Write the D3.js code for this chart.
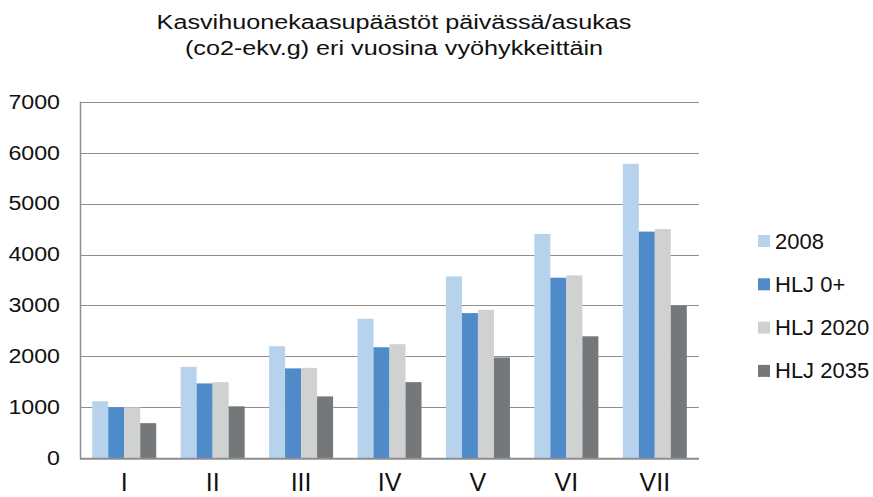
<!DOCTYPE html>
<html><head><meta charset="utf-8">
<script src="https://cdn.jsdelivr.net/npm/d3@7"></script>
<style>body{margin:0;background:#fff;}text{font-family:"Liberation Sans",Arial,sans-serif;fill:#111;}</style>
</head><body><svg id="c" width="873" height="497"></svg>
<script>
const categories = ["I","II","III","IV","V","VI","VII"];
const seriesNames = ["2008","HLJ 0+","HLJ 2020","HLJ 2035"];
const s2008   = [1120, 1795, 2200, 2740, 3570, 4405, 5780];
const sHLJ0   = [1000, 1470, 1765, 2180, 2850, 3545, 4450];
const sHLJ2020= [1000, 1495, 1775, 2240, 2915, 3590, 4500];
const sHLJ2035= [690, 1020, 1215, 1495, 1980, 2395, 2995];
const yTicks = [0,1000,2000,3000,4000,5000,6000,7000];
const colors = ["#b7d2ed","#4f8ac9","#d0d1d1","#75787b"];
const titleLines = ["Kasvihuonekaasupäästöt päivässä/asukas","(co2-ekv.g) eri vuosina vyöhykkeittäin"];

const values = [s2008, sHLJ0, sHLJ2020, sHLJ2035];
const svg = d3.select("#c");
const L=80, R=699, T=101.7, B=458.3;
const x0 = d3.scaleBand().domain(categories).range([L,R]).paddingInner(0.276).paddingOuter(0.138);
const x1 = d3.scaleBand().domain(seriesNames).range([0,x0.bandwidth()]);
const y = d3.scaleLinear().domain([0,7000]).range([B,T]);

// gridlines
svg.append("g").selectAll("line").data(yTicks.filter(d=>d>0)).join("line")
  .attr("x1",L).attr("x2",R).attr("y1",d=>Math.round(y(d))+0.5).attr("y2",d=>Math.round(y(d))+0.5)
  .attr("stroke","#8e8e8e").attr("stroke-width",1);

// bars
const g = svg.append("g");
categories.forEach((c,ci)=>{
  seriesNames.forEach((s,si)=>{
    g.append("rect").attr("x",x0(c)+x1(s)).attr("width",x1.bandwidth())
      .attr("y",y(values[si][ci])).attr("height",B-y(values[si][ci]))
      .attr("fill",colors[si]);
  });
});

// axes lines
svg.append("line").attr("x1",L+0.5).attr("x2",L+0.5).attr("y1",T).attr("y2",B+1).attr("stroke","#8e8e8e").attr("stroke-width",1.5);
svg.append("line").attr("x1",L).attr("x2",R).attr("y1",B+0.5).attr("y2",B+0.5).attr("stroke","#8e8e8e").attr("stroke-width",2);

// y axis labels (slightly widened to match reference glyph proportions)
const yAxis = d3.axisLeft(y).tickValues(yTicks).tickSize(0).tickPadding(0).tickFormat(d3.format("d"));
const ya = svg.append("g").attr("transform",`translate(${L},0)`).call(yAxis);
ya.select(".domain").remove();
ya.selectAll("text").attr("x",0).attr("font-size","20px").attr("fill","#111")
  .style("font-family","'Liberation Sans',Arial,sans-serif")
  .attr("transform","translate(-20,0) scale(1.16,1)");

// x axis labels
const xAxis = d3.axisBottom(x0).tickSize(0).tickPadding(0);
const xa = svg.append("g").attr("transform",`translate(0,${B})`).call(xAxis);
xa.select(".domain").remove();
xa.selectAll("text").attr("y",32.5).attr("dy",0).attr("font-size","25px").attr("fill","#111")
  .style("font-family","'Liberation Sans',Arial,sans-serif");

// title
svg.append("g").selectAll("text").data(titleLines).join("text")
  .attr("transform",(d,i)=>`translate(394,${29+i*26}) scale(1.2,1)`)
  .attr("text-anchor","middle").attr("font-size","21px").text(d=>d);

// legend
const lg = svg.append("g").selectAll("g").data(seriesNames).join("g")
  .attr("transform",(d,i)=>`translate(758,${241+i*43.3})`);
lg.append("rect").attr("x",0).attr("y",-6).attr("width",12).attr("height",12).attr("fill",(d,i)=>colors[i]);
lg.append("text").attr("x",17).attr("y",7.5).attr("font-size","22px").text(d=>d);
</script></body></html>
